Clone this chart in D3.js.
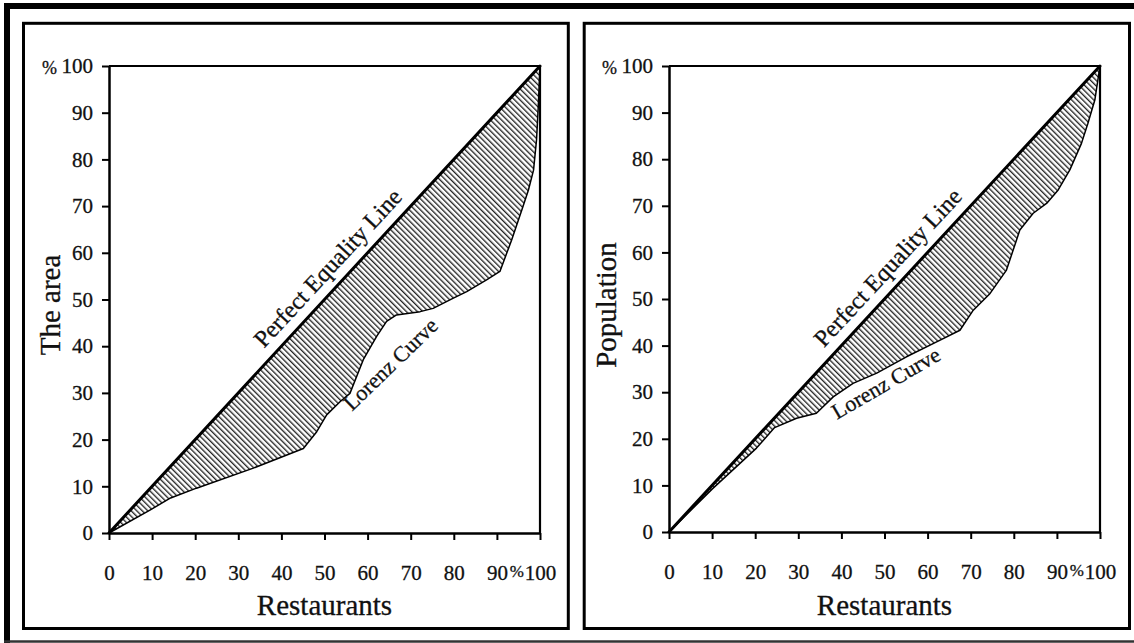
<!DOCTYPE html>
<html>
<head>
<meta charset="utf-8">
<script src="https://cdn.jsdelivr.net/npm/d3@7"></script>
<style>
  html, body { margin: 0; padding: 0; background: #fff; }
  svg { display: block; }
  svg text { font-family: "Liberation Serif", Tinos, "Times New Roman", Times, "DejaVu Serif", serif !important; fill: #111; stroke: #111; stroke-width: 0.3px; }
</style>
</head>
<body>
<svg id="chart" width="1134" height="643"></svg>
<script>
// ---------------- data ----------------
const xTickValues = [0, 10, 20, 30, 40, 50, 60, 70, 80, 90, 100];
const yTickValues = [0, 10, 20, 30, 40, 50, 60, 70, 80, 90, 100];
const xAxisTitle = "Restaurants";
const yAxisTitles = ["The area", "Population"];
const equalityLabel = "Perfect Equality Line";
const lorenzLabel = "Lorenz Curve";

// Lorenz curve: cumulative % of restaurants (x) vs cumulative % of area (y)
const areaX = [0, 9.5, 14.3, 20.3, 33.5, 45.1, 48.2, 50.5, 53.6, 55.9, 59.0, 62.1, 64.4, 66.7, 72.2, 75.2, 79.9, 83.0, 87.6, 90.7, 93.4, 95.8, 97.3, 98.5, 99.2, 99.6, 100];
const areaY = [0, 4.9, 7.5, 9.6, 13.9, 18.1, 21.7, 25.3, 28.1, 29.9, 37.1, 42.1, 45.3, 46.7, 47.4, 48.1, 50.3, 51.7, 54.2, 56.0, 62.7, 69.2, 73.4, 77.7, 84.2, 91.3, 100];

// Lorenz curve: cumulative % of restaurants (x) vs cumulative % of population (y)
const popX = [0, 10, 20.3, 24.5, 29.6, 34.2, 38.1, 42.7, 48.2, 55.1, 62.1, 67.5, 70.6, 74.5, 78.3, 81.4, 84.5, 87.6, 90.3, 93.0, 95.7, 97.2, 98.8, 100];
const popY = [0, 9.2, 18.0, 22.4, 24.4, 25.5, 29.0, 31.9, 34.1, 37.6, 40.8, 43.3, 47.6, 51.2, 56.2, 64.8, 68.4, 70.5, 73.4, 77.7, 83.4, 87.7, 92.7, 100];

// annotation anchors (in data units)
const equalityLabelAt = [54.0, 54.0];
const lorenzLabelAt = [[66.5, 35.0], [51.2, 30.6]];

// ---------------- layout ----------------
const FONT = '"Liberation Serif", Tinos, "Times New Roman", Times, "DejaVu Serif", serif';
const svg = d3.select("#chart");
svg.append("rect").attr("width", 1134).attr("height", 643).attr("fill", "#fff");

const defs = svg.append("defs");
const pat = defs.append("pattern")
  .attr("id", "hatch")
  .attr("patternUnits", "userSpaceOnUse")
  .attr("width", 3.9).attr("height", 10)
  .attr("patternTransform", "rotate(-45)");
pat.append("line")
  .attr("x1", 0.7).attr("y1", -1).attr("x2", 0.7).attr("y2", 11)
  .attr("stroke", "#111").attr("stroke-width", 1.25);

// outer frame
svg.append("line").attr("x1", 7).attr("y1", 3).attr("x2", 7).attr("y2", 643)
  .attr("stroke", "#000").attr("stroke-width", 6);
svg.append("line").attr("x1", 4).attr("y1", 6).attr("x2", 1134).attr("y2", 6)
  .attr("stroke", "#000").attr("stroke-width", 6);
svg.append("line").attr("x1", 4).attr("y1", 641.5).attr("x2", 1134).attr("y2", 641.5)
  .attr("stroke", "#333").attr("stroke-width", 2.5);

const panels = [
  { frame: [23.5, 23.3, 568.3, 628.5], plot: [109, 540, 533, 66], title: yAxisTitles[0], titleX: 60,
    xs: areaX, ys: areaY, lorenzAt: lorenzLabelAt[0], lorenzAngle: -44 },
  { frame: [584.2, 23.3, 1129.5, 628.5], plot: [669, 1100, 532, 66], title: yAxisTitles[1], titleX: 616,
    xs: popX, ys: popY, lorenzAt: lorenzLabelAt[1], lorenzAngle: -30 }
];

panels.forEach(p => {
  const [fx0, fy0, fx1, fy1] = p.frame;
  svg.append("rect")
    .attr("x", fx0).attr("y", fy0).attr("width", fx1 - fx0).attr("height", fy1 - fy0)
    .attr("fill", "none").attr("stroke", "#000").attr("stroke-width", 3);

  const [px0, px1, py0, py1] = p.plot;
  const x = d3.scaleLinear().domain([0, 100]).range([px0, px1]);
  const y = d3.scaleLinear().domain([0, 100]).range([py0, py1]);

  const g = svg.append("g").attr("font-family", FONT);
  const pts = p.xs.map((v, i) => ({ x: v, y: p.ys[i] }));

  // hatched region between equality line and Lorenz curve
  g.append("path")
    .datum(pts)
    .attr("d", d3.area().x(d => x(d.x)).y0(d => y(d.x)).y1(d => y(d.y)))
    .attr("fill", "url(#hatch)").attr("stroke", "none");

  // Lorenz curve
  g.append("path")
    .datum(pts)
    .attr("d", d3.line().x(d => x(d.x)).y(d => y(d.y)))
    .attr("fill", "none").attr("stroke", "#000").attr("stroke-width", 1.5)
    .attr("stroke-linejoin", "round");

  // plot frame top/right
  g.append("line").attr("x1", x(0)).attr("x2", x(100)).attr("y1", y(100)).attr("y2", y(100))
    .attr("stroke", "#000").attr("stroke-width", 2.2);
  g.append("line").attr("x1", x(100)).attr("x2", x(100)).attr("y1", y(0)).attr("y2", y(100))
    .attr("stroke", "#000").attr("stroke-width", 2.2);

  // equality line
  g.append("line")
    .attr("x1", x(0)).attr("y1", y(0)).attr("x2", x(100)).attr("y2", y(100))
    .attr("stroke", "#000").attr("stroke-width", 3).attr("stroke-linecap", "round");

  // axes
  const yAxis = g.append("g").attr("transform", `translate(${x(0)},0)`)
    .call(d3.axisLeft(y).tickValues(yTickValues).tickSize(7).tickSizeOuter(0).tickPadding(9)
      .tickFormat(d3.format("d")));
  const xAxis = g.append("g").attr("transform", `translate(0,${y(0)})`)
    .call(d3.axisBottom(x).tickValues(xTickValues).tickSize(7).tickSizeOuter(0).tickPadding(25)
      .tickFormat(d3.format("d")));

  [yAxis, xAxis].forEach(ax => {
    ax.attr("font-family", FONT).attr("font-size", 21);
    ax.select(".domain").attr("stroke", "#000").attr("stroke-width", 2.5);
    ax.selectAll(".tick line").attr("stroke", "#000").attr("stroke-width", 2);
    ax.selectAll(".tick text").attr("font-size", 21).attr("fill", "#111")
      .attr("font-family", FONT);
  });

  // "%" marks by the 100 labels
  yAxis.selectAll(".tick").filter(d => d === 100)
    .append("text").attr("x", -52).attr("dy", "0.42em").attr("font-family", FONT)
    .attr("text-anchor", "end").attr("font-size", 18).attr("fill", "#111").text("%");
  xAxis.selectAll(".tick").filter(d => d === 100)
    .append("text").attr("x", -16.5).attr("y", 32).attr("dy", "0.71em").attr("font-family", FONT)
    .attr("text-anchor", "end").attr("font-size", 17).attr("fill", "#111").text("%");

  // axis titles
  g.append("text")
    .attr("x", (x(0) + x(100)) / 2).attr("y", 615).attr("font-family", FONT)
    .attr("text-anchor", "middle").attr("font-size", 29)
    .text(xAxisTitle);
  g.append("text")
    .attr("transform", `translate(${p.titleX},305) rotate(-90)`).attr("font-family", FONT)
    .attr("text-anchor", "middle").attr("font-size", 29)
    .text(p.title);

  // equality label along the diagonal
  const ang = Math.atan2(y(100) - y(0), x(100) - x(0)) * 180 / Math.PI;
  g.append("text")
    .attr("transform", `translate(${x(equalityLabelAt[0])},${y(equalityLabelAt[1])}) rotate(${ang})`)
    .attr("x", 0).attr("y", -11).attr("font-family", FONT)
    .attr("text-anchor", "middle").attr("font-size", 24)
    .text(equalityLabel);

  // Lorenz label
  g.append("text")
    .attr("transform", `translate(${x(p.lorenzAt[0])},${y(p.lorenzAt[1])}) rotate(${p.lorenzAngle})`)
    .attr("font-family", FONT)
    .attr("text-anchor", "middle").attr("font-size", 22)
    .text(lorenzLabel);
});
</script>
</body>
</html>
